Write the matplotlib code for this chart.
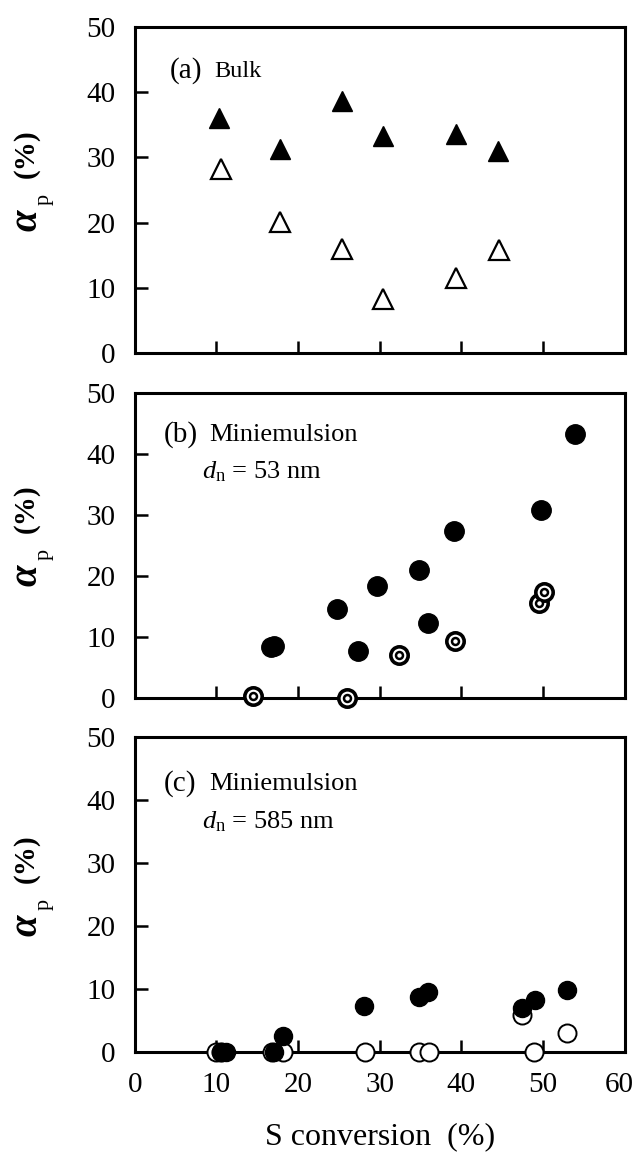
import numpy as np
import matplotlib
matplotlib.use("Agg")
import matplotlib.pyplot as plt
import matplotlib.transforms as mtransforms

plt.rcParams['font.family'] = ['Liberation Serif', 'DejaVu Serif']
plt.rcParams['mathtext.fontset'] = 'custom'
plt.rcParams['mathtext.it'] = 'Liberation Serif:italic'
plt.rcParams['mathtext.rm'] = 'Liberation Serif'

# (a) bulk
bulk_x = [10.3, 17.8, 25.4, 30.4, 39.4, 44.5]
bulk_filled = [36.0, 31.3, 38.6, 33.2, 33.5, 31.0]
bulk_open_x = [10.5, 17.8, 25.4, 30.4, 39.4, 44.6]
bulk_open = [28.2, 20.1, 16.0, 8.3, 11.5, 15.8]

# (b) miniemulsion, dn = 53 nm
b_filled_x = [16.7, 17.1, 24.8, 27.3, 29.7, 34.8, 35.9, 39.1, 49.8, 53.9]
b_filled_y = [8.3, 8.4, 14.6, 7.7, 18.3, 20.9, 12.3, 27.4, 30.7, 43.2]
b_ring_x = [14.5, 26.0, 32.4, 39.2, 49.5, 50.1]
b_ring_y = [0.2, 0.0, 7.0, 9.3, 15.5, 17.4]

# (c) miniemulsion, dn = 585 nm
c_filled_x = [10.6, 11.2, 17.1, 18.1, 28.1, 34.8, 35.9, 47.4, 49.0, 53.0]
c_filled_y = [0.0, 0.0, 0.0, 2.5, 7.3, 8.8, 9.5, 7.0, 8.2, 9.9]
c_open_x = [9.9, 10.5, 16.8, 18.2, 28.2, 34.8, 36.0, 47.4, 48.9, 53.0]
c_open_y = [0.0, 0.0, 0.0, 0.0, 0.0, 0.0, 0.0, 5.9, 0.0, 3.0]

x_ticks = [0, 10, 20, 30, 40, 50, 60]
y_ticks = [0, 10, 20, 30, 40, 50]

fig = plt.figure(figsize=(6.36, 11.55), dpi=100)
ax_a = fig.add_axes([0.212, 0.694, 0.770, 0.283])
ax_b = fig.add_axes([0.212, 0.396, 0.770, 0.264])
ax_c = fig.add_axes([0.212, 0.089, 0.770, 0.273])


def alpha_label(ax):
    # alpha_p (%) built from pieces so each part can have its own size
    kw = dict(xycoords='axes fraction', textcoords='offset points',
              rotation=90, ha='center', va='center')
    ax.annotate('α', xy=(0, 0.5), xytext=(-78, -22), fontsize=28,
                fontweight='bold', fontstyle='italic', **kw)
    ax.annotate('p', xy=(0, 0.5), xytext=(-65, -7), fontsize=16, **kw)
    ax.annotate('(%)', xy=(0, 0.5), xytext=(-78, 26), fontsize=21,
                fontweight='bold', **kw)


for ax in (ax_a, ax_b, ax_c):
    ax.set_xlim(0, 60)
    ax.set_ylim(0, 50)
    ax.set_xticks(x_ticks)
    ax.set_yticks(y_ticks)
    ax.tick_params(direction='in', length=9, width=1.8, labelsize=21)
    ax.tick_params(axis='y', pad=14)
    for s in ax.spines.values():
        s.set_linewidth(2.2)
    alpha_label(ax)

ax_a.tick_params(labelbottom=False)
ax_b.tick_params(labelbottom=False)
ax_c.set_xlabel('S conversion  (%)', fontsize=23, labelpad=18)
ax_c.tick_params(axis='x', pad=14)
fig.canvas.draw()
last = ax_c.get_xticklabels()[-1]
last.set_transform(last.get_transform() +
                   mtransforms.ScaledTranslation(-5 / 100, 0, fig.dpi_scale_trans))

# panel a
ax_a.plot(bulk_x, bulk_filled, '^', color='black', markersize=14, clip_on=False)
ax_a.plot(bulk_open_x, bulk_open, '^', markerfacecolor='white', markeredgecolor='black',
          markeredgewidth=1.6, markersize=14, clip_on=False)
ax_a.text(0.072, 0.845, '(a)', transform=ax_a.transAxes, fontsize=21)
ax_a.text(0.163, 0.845, 'Bulk', transform=ax_a.transAxes, fontsize=17.5)

# panel b
ax_b.plot(b_filled_x, b_filled_y, 'o', color='black', markersize=14, clip_on=False, zorder=3)
ax_b.plot(b_ring_x, b_ring_y, 'o', markerfacecolor='white', markeredgecolor='black',
          markeredgewidth=2.6, markersize=12.5, clip_on=False, zorder=4)
ax_b.plot(b_ring_x, b_ring_y, 'o', markerfacecolor='white', markeredgecolor='black',
          markeredgewidth=1.8, markersize=5, clip_on=False, zorder=5)
ax_b.text(0.06, 0.84, '(b)', transform=ax_b.transAxes, fontsize=21)
ax_b.text(0.152, 0.84, 'Miniemulsion', transform=ax_b.transAxes, fontsize=19)
ax_b.text(0.137, 0.72, r'$d_{\mathrm{n}}$ = 53 nm', transform=ax_b.transAxes, fontsize=19)

# panel c
ax_c.plot(c_open_x, c_open_y, 'o', markerfacecolor='white', markeredgecolor='black',
          markeredgewidth=1.4, markersize=13, clip_on=False, zorder=3)
ax_c.plot(c_filled_x, c_filled_y, 'o', color='black', markersize=13, clip_on=False, zorder=4)
ax_c.text(0.06, 0.83, '(c)', transform=ax_c.transAxes, fontsize=21)
ax_c.text(0.152, 0.83, 'Miniemulsion', transform=ax_c.transAxes, fontsize=19)
ax_c.text(0.137, 0.71, r'$d_{\mathrm{n}}$ = 585 nm', transform=ax_c.transAxes, fontsize=19)

fig.savefig('out.png', dpi=100)
